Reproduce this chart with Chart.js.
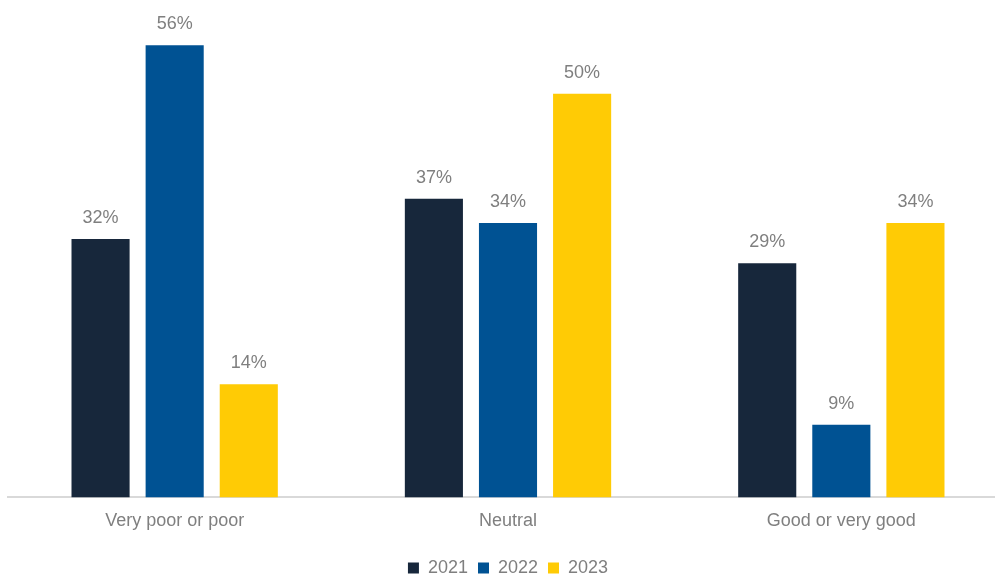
<!DOCTYPE html>
<html>
<head>
<meta charset="utf-8">
<script src="https://cdn.jsdelivr.net/npm/chart.js@4"></script>
<style>
  body { margin: 0; overflow: hidden; background: #fff; }
  #wrap { width: 1022px; height: 587px; }
</style>
</head>
<body>
<div id="wrap"><canvas id="chart"></canvas></div>
<script>
// Ratings by year
var categories = ['Very poor or poor', 'Neutral', 'Good or very good'];
var values2021 = [32, 37, 29];
var values2022 = [56, 34, 9];
var values2023 = [14, 50, 34];

// draw the % labels over each bar
var barLabels = {
    id: 'barLabels',
    afterDatasetsDraw: function (chart) {
        var ctx = chart.ctx;
        ctx.save();
        ctx.font = '18px "Liberation Sans", Arial, sans-serif';
        ctx.fillStyle = '#7f7f7f';
        ctx.textAlign = 'center';
        ctx.textBaseline = 'alphabetic';
        chart.data.datasets.forEach(function (ds, i) {
            chart.getDatasetMeta(i).data.forEach(function (bar, j) {
                ctx.fillText(ds.data[j] + '%', bar.x, bar.y - 16);
            });
        });
        ctx.restore();
    }
};

Chart.defaults.font.family = '"Liberation Sans", Arial, sans-serif';
Chart.defaults.font.size = 18;
Chart.defaults.color = '#7f7f7f';

var ctx = document.getElementById('chart').getContext('2d');
var ratingsChart = new Chart(ctx, {
    type: 'bar',
    data: {
        labels: categories,
        datasets: [
            { label: '2021', data: values2021, backgroundColor: '#17273b' },
            { label: '2022', data: values2022, backgroundColor: '#005293' },
            { label: '2023', data: values2023, backgroundColor: '#ffcb05' }
        ]
    },
    options: {
        responsive: true,
        maintainAspectRatio: false,
        animation: false,
        categoryPercentage: 0.667,
        barPercentage: 0.784,
        layout: { padding: { left: 8, right: 14, top: 13, bottom: 0 } },
        plugins: {
            legend: {
                position: 'bottom',
                labels: { boxWidth: 11, boxHeight: 11, padding: 10, color: '#7f7f7f' }
            },
            tooltip: { enabled: false }
        },
        scales: {
            x: {
                grid: { display: false, drawTicks: false },
                border: { color: '#d9d9d9', width: 2 },
                ticks: { padding: 13, color: '#7f7f7f' },
                afterFit: function (scale) { scale.height += 4; }
            },
            y: {
                display: false,
                min: 0,
                max: 60
            }
        }
    },
    plugins: [barLabels]
});
</script>
</body>
</html>
